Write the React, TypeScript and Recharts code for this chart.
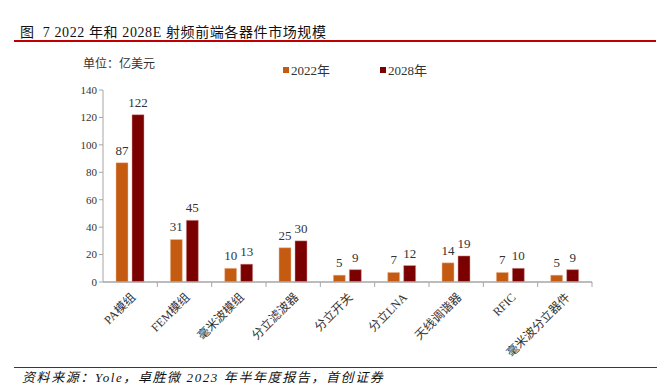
import React from "react";
import { BarChart, Bar, XAxis, YAxis, LabelList } from "recharts";

const categories = ["PA模组", "FEM模组", "毫米波模组", "分立滤波器", "分立开关", "分立LNA", "天线调谐器", "RFIC", "毫米波分立器件"];
const values2022 = [87, 31, 10, 25, 5, 7, 14, 7, 5];
const values2028 = [122, 45, 13, 30, 9, 12, 19, 10, 9];
const yTicks = [0, 20, 40, 60, 80, 100, 120, 140];

const data = categories.map((name, i) => ({ name, y2022: values2022[i], y2028: values2028[i] }));

const FONT = "'Liberation Serif', 'Times New Roman', 'Noto Sans CJK SC', serif";
const ORANGE = "#C55A11";
const DARKRED = "#7B0000";
const AXIS = "#A6A6A6";

const PLOT_LEFT = 103;
const PLOT_RIGHT = 592;
const BAND = (PLOT_RIGHT - PLOT_LEFT) / categories.length;

function XTick(props: any) {
    const { x, y, payload } = props;
    return (
        <g>
            <line x1={x + BAND / 2} y1={y - 8} x2={x + BAND / 2} y2={y - 3} stroke={AXIS} />
            <text
                x={x + 6}
                y={y + 8}
                textAnchor="end"
                transform={`rotate(-45 ${x + 6} ${y + 8})`}
                fontSize={12}
                fill="#333"
                fontFamily={FONT}
            >
                {payload.value}
            </text>
        </g>
    );
}

function LegendBox() {
    return (
        <div style={{ display: "flex", fontFamily: FONT, fontSize: 13, color: "#333" }}>
            <span style={{ display: "flex", alignItems: "center", marginRight: 50 }}>
                <span style={{ width: 6, height: 6, background: ORANGE, marginRight: 2 }} />2022年
            </span>
            <span style={{ display: "flex", alignItems: "center" }}>
                <span style={{ width: 6, height: 6, background: DARKRED, marginRight: 2 }} />2028年
            </span>
        </div>
    );
}

export default function App() {
    return (
        <div style={{ position: "absolute", left: 0, top: 0, width: 671, height: 386, background: "#fff", fontFamily: FONT }}>
            <div style={{ position: "absolute", left: 20, top: 21, fontSize: 14, letterSpacing: 0.6, color: "#111", whiteSpace: "nowrap" }}>
                图&nbsp;&nbsp;7 2022 年和 2028E 射频前端各器件市场规模
            </div>
            <div style={{ position: "absolute", left: 14, top: 40, width: 642, height: 2, background: "#C00000" }} />
            <div style={{ position: "absolute", left: 83, top: 54, fontSize: 12, color: "#333" }}>单位：亿美元</div>
            <div style={{ position: "absolute", left: 283, top: 60 }}>
                <LegendBox />
            </div>
            <BarChart
                width={671}
                height={386}
                data={data}
                margin={{ top: 90, right: 671 - PLOT_RIGHT, bottom: 24, left: PLOT_LEFT - 40 }}
                barSize={12}
                barGap={4}
            >
                <XAxis
                    dataKey="name"
                    interval={0}
                    height={80}
                    stroke={AXIS}
                    strokeWidth={1.5}
                    tickLine={false}
                    tick={<XTick />}
                />
                <YAxis
                    width={40}
                    domain={[0, 140]}
                    ticks={yTicks}
                    stroke={AXIS}
                    tickSize={4}
                    tick={{ fontSize: 11, fill: "#333", fontFamily: FONT }}
                />
                <Bar dataKey="y2022" fill={ORANGE} stroke="#F2C7A8" strokeWidth={0.5} isAnimationActive={false}>
                    <LabelList dataKey="y2022" position="top" offset={8} fontSize={13} fill="#333" fontFamily={FONT} />
                </Bar>
                <Bar dataKey="y2028" fill={DARKRED} stroke="#D9A0A0" strokeWidth={0.5} isAnimationActive={false}>
                    <LabelList dataKey="y2028" position="top" offset={8} fontSize={13} fill="#333" fontFamily={FONT} />
                </Bar>
            </BarChart>
            <div style={{ position: "absolute", left: 14, top: 367, width: 643, height: 1, background: "#C00000" }} />
            <div style={{ position: "absolute", left: 22, top: 371, fontSize: 13, lineHeight: "14px", letterSpacing: 1.6, fontStyle: "italic", color: "#111", whiteSpace: "nowrap" }}>
                资料来源：Yole，卓胜微 2023 年半年度报告，首创证券
            </div>
        </div>
    );
}
